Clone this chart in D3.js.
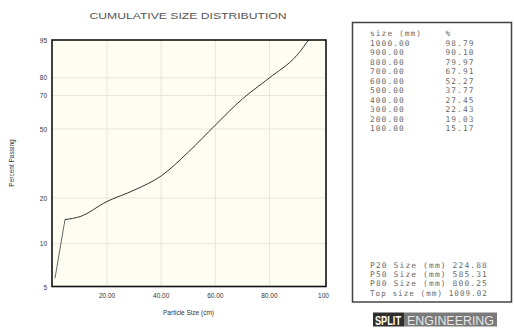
<!DOCTYPE html>
<html><head><meta charset="utf-8">
<script src="https://cdn.jsdelivr.net/npm/d3@7"></script>
<style>body{margin:0;background:#fff}svg{display:block}</style>
</head><body><svg id="c" width="514" height="329"></svg>
<script>
// Data
const sizesCm = [0.74, 4.44, 10, 20, 30, 40, 50, 60, 70, 80, 90, 100];
const passing = [5.8, 14.5, 15.17, 19.03, 22.43, 27.45, 37.77, 52.27, 67.91, 79.97, 90.10, 98.79];
const yTicks = [5, 10, 20, 50, 70, 80, 95];
const yGrid = [10, 20, 50, 70, 80];
const xTicks = [20, 40, 60, 80, 100];
const xTickLabels = ["20.00", "40.00", "60.00", "80.00", "100"];
const tableSizes = ["1000.00","900.00","800.00","700.00","600.00","500.00","400.00","300.00","200.00","100.00"];
const tablePct = ["98.79","90.10","79.97","67.91","52.27","37.77","27.45","22.43","19.03","15.17"];
const pLabels = ["P20 Size (mm) 224.88","P50 Size (mm) 585.31","P80 Size (mm) 800.25","Top size (mm) 1009.02"];

const svg = d3.select("#c");
const rr = p => Math.log(-Math.log(1 - p/100));
const x = d3.scaleLinear().domain([0,100]).range([53,323.5]);
const yT = d3.scaleLinear().domain([rr(5), rr(95)]).range([287.5, 40]);
const y = p => yT(rr(p));

const L=52, R=326, T=40, B=286.5;
svg.append("defs").append("clipPath").attr("id","clip")
  .append("rect").attr("x",L).attr("y",T).attr("width",R-L).attr("height",B-T);

svg.append("rect").attr("x",L).attr("y",T).attr("width",R-L).attr("height",B-T).attr("fill","#fefdf2");

// grid
svg.selectAll(".gy").data(yGrid).join("line")
  .attr("x1",L).attr("x2",R).attr("y1",d=>y(d)).attr("y2",d=>y(d))
  .attr("stroke","#e9e6d8").attr("stroke-width",1);
svg.selectAll(".gx").data(xTicks.slice(0,4)).join("line")
  .attr("y1",T).attr("y2",B).attr("x1",d=>x(d)).attr("x2",d=>x(d))
  .attr("stroke","#e9e6d8").attr("stroke-width",1);

// curve: straight initial rise, smooth afterwards
const lineA = d3.line().x((d,i)=>x(sizesCm[i])).y((d,i)=>y(passing[i]));
svg.append("path").datum(passing.slice(0,2)).attr("d",lineA).attr("clip-path","url(#clip)")
  .attr("fill","none").attr("stroke","#666").attr("stroke-width",1);
const off = 1;
const lineB = d3.line().x((d,i)=>x(sizesCm[i+off])).y((d,i)=>y(passing[i+off])).curve(d3.curveMonotoneX);
svg.append("path").datum(passing.slice(off)).attr("d",lineB).attr("clip-path","url(#clip)")
  .attr("fill","none").attr("stroke","#333").attr("stroke-width",1);

// frame
svg.append("rect").attr("x",L).attr("y",T).attr("width",R-L).attr("height",B-T)
  .attr("fill","none").attr("stroke","#111").attr("stroke-width",1.6);

// y tick labels
svg.selectAll(".yl").data(yTicks).join("text")
  .attr("x",47).attr("y",d=>y(d)+2.5).attr("text-anchor","end")
  .attr("font-family","Liberation Sans, Arial, sans-serif").attr("font-size",6.5).attr("fill","#333")
  .text(d=>d);
// x tick labels
svg.selectAll(".xl").data(xTicks).join("text")
  .attr("x",(d)=>x(d)).attr("y",297.5).attr("text-anchor","middle")
  .attr("font-family","Liberation Sans, Arial, sans-serif").attr("font-size",6.5).attr("fill","#333")
  .text((d,i)=>xTickLabels[i]);

// titles
svg.append("text").attr("x",188).attr("y",18.5).attr("text-anchor","middle")
  .attr("font-family","Liberation Sans, Arial, sans-serif").attr("font-size",9.5).attr("fill","#555")
  .attr("textLength",197).attr("lengthAdjust","spacingAndGlyphs")
  .text("CUMULATIVE SIZE DISTRIBUTION");
svg.append("text").attr("x",188.5).attr("y",315).attr("text-anchor","middle")
  .attr("font-family","Liberation Sans, Arial, sans-serif").attr("font-size",6.5).attr("fill","#333")
  .text("Particle Size (cm)");
svg.append("text").attr("transform","translate(14,163) rotate(-90)").attr("text-anchor","middle")
  .attr("font-family","Liberation Sans, Arial, sans-serif").attr("font-size",6.5).attr("fill","#333")
  .text("Percent Passing");

// right panel
svg.append("rect").attr("x",352.5).attr("y",22.5).attr("width",159).attr("height",279.5)
  .attr("fill","#fff").attr("stroke","#444").attr("stroke-width",1.5);
const mono = "DejaVu Sans Mono, monospace";
const tg = svg.append("g").attr("font-family",mono).attr("font-size",7.8).attr("fill","#6a6a6a").attr("letter-spacing",1.1);
tg.append("text").attr("x",370).attr("y",36).text("size (mm)");
tg.append("text").attr("x",445.5).attr("y",36).text("%");
tg.selectAll(".ts").data(tableSizes).join("text").attr("x",370).attr("y",(d,i)=>45.7+i*9.5).text(d=>d);
tg.selectAll(".tp").data(tablePct).join("text").attr("x",445.5).attr("y",(d,i)=>45.7+i*9.5).text(d=>d);
tg.selectAll(".pl").data(pLabels).join("text").attr("x",370).attr("y",(d,i)=>267.5+i*9.4)
  .attr("xml:space","preserve").attr("textLength",118).attr("lengthAdjust","spacingAndGlyphs").text(d=>d);

// logo
svg.append("rect").attr("x",373).attr("y",312.5).attr("width",31).attr("height",14).attr("fill","#2e2e2e");
svg.append("rect").attr("x",404).attr("y",312.5).attr("width",93).attr("height",14).attr("fill","#7a7a7a");
svg.append("text").attr("x",375).attr("y",325).attr("font-family","Liberation Sans Narrow, Liberation Sans, sans-serif")
  .attr("font-weight","bold").attr("font-size",12.5).attr("fill","#fff")
  .attr("textLength",26).attr("lengthAdjust","spacingAndGlyphs").text("SPLIT");
svg.append("text").attr("x",407).attr("y",325).attr("font-family","Liberation Sans Narrow, Liberation Sans, sans-serif")
  .attr("font-size",12.5).attr("fill","#e6e6e6")
  .attr("textLength",87).attr("lengthAdjust","spacingAndGlyphs").text("ENGINEERING");
</script></body></html>
